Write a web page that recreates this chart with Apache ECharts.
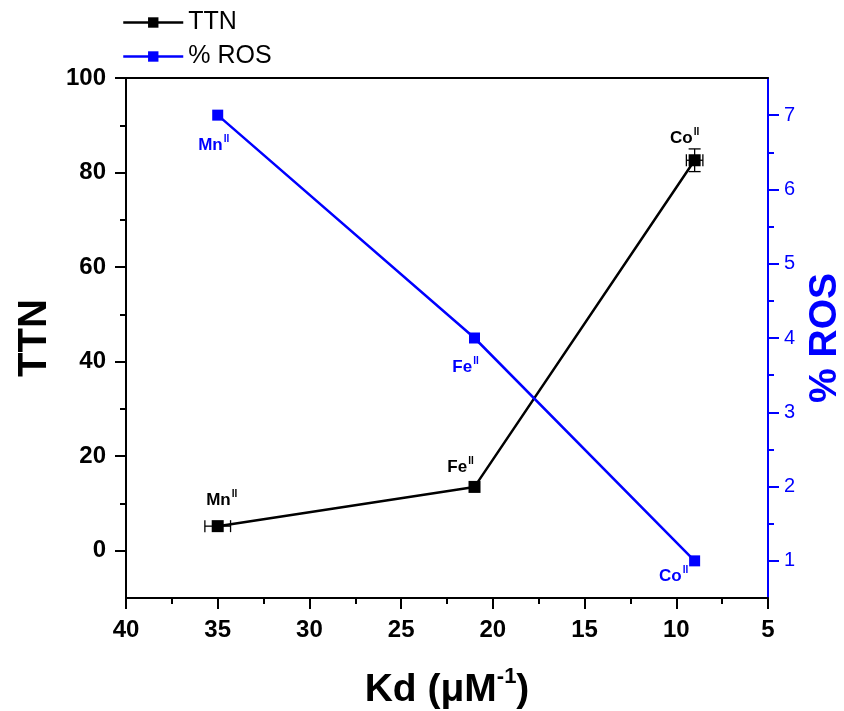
<!DOCTYPE html>
<html>
<head>
<meta charset="utf-8">
<script src="https://cdn.jsdelivr.net/npm/echarts@6/dist/echarts.min.js"></script>
<style>
  html, body { margin: 0; padding: 0; background: #fff; }
  #chart { width: 844px; height: 711px; }
</style>
</head>
<body>
<div id="chart"></div>
<script>
// Metal centres and their dissociation constants
const metals = ['Mn', 'Fe', 'Co'];
const kd = [35, 21, 9];
// Total turnover number (left axis) with error estimates
const ttn = [5.2, 13.5, 82.6];
const kdErr = [0.7, 0, 0.45];
const ttnErr = [0, 0, 2.4];
// Reactive oxygen species fraction (right axis)
const ros = [7, 4, 1];

// Tick positions
const kdTicks = [5, 10, 15, 20, 25, 30, 35, 40];
const ttnTicks = [0, 20, 40, 60, 80, 100];
const ttnMinorTicks = [10, 30, 50, 70, 90];
const rosTicks = [1, 2, 3, 4, 5, 6, 7];
const rosMinorTicks = [1.5, 2.5, 3.5, 4.5, 5.5, 6.5];

const FONT = '"Liberation Sans", Arial, sans-serif';
const BLUE = '#0000ff';
const BLACK = '#000000';

// label offsets relative to each marker
const ttnLabelOffset = [[4, -27], [-14, -21], [-10, -23]];
const rosLabelOffset = [[-4, 29], [-9, 28], [-21, 14]];

function supRich(color) {
  return {
    b: { fontFamily: FONT, fontSize: 17, fontWeight: 'bold', color: color, lineHeight: 20, verticalAlign: 'bottom' },
    s: { fontFamily: FONT, fontSize: 10, fontWeight: 'bold', color: color, lineHeight: 20, verticalAlign: 'top', padding: [0, 0, 0, 1] }
  };
}

const ttnData = kd.map((x, i) => ({
  value: [x, ttn[i]],
  label: {
    show: true, position: 'inside', offset: ttnLabelOffset[i],
    formatter: '{b|' + metals[i] + '}{s|II}', rich: supRich(BLACK)
  }
}));
const rosData = kd.map((x, i) => ({
  value: [x, ros[i]],
  label: {
    show: true, position: 'inside', offset: rosLabelOffset[i],
    formatter: '{b|' + metals[i] + '}{s|II}', rich: supRich(BLUE)
  }
}));
const errData = kd.map((x, i) => [x, ttn[i], kdErr[i], ttnErr[i]]);

const chart = echarts.init(document.getElementById('chart'), null, { renderer: 'canvas' });

const tickLabel = { fontFamily: FONT, fontSize: 24, fontWeight: 'bold', color: BLACK };
const hidden = { show: false };

// Overlay axis that only draws short (minor) ticks at the given values
function minorYAxis(min, max, values, position, color) {
  return {
    type: 'value', min, max, position,
    axisLine: { show: false, onZero: false },
    axisTick: { show: true, length: 6, customValues: values, lineStyle: { color, width: 2 } },
    axisLabel: hidden, splitLine: hidden
  };
}

chart.setOption({
  animation: false,
  backgroundColor: '#fff',
  legend: {
    left: 122, top: 10, padding: 0, orient: 'vertical',
    itemWidth: 60, itemHeight: 13, itemGap: 9,
    textStyle: { fontFamily: FONT, fontSize: 25, color: BLACK },
    lineStyle: { width: 2.5 },
    data: ['TTN', '% ROS']
  },
  grid: { left: 126, right: 76, top: 78, bottom: 113, outerBoundsMode: 'none', containLabel: false },
  xAxis: [{
    type: 'value', min: 5, max: 40, interval: 5, inverse: true,
    name: '{n|Kd (μM}{s|-1}{n|)}', nameLocation: 'middle', nameGap: 68,
    nameTextStyle: {
      rich: {
        n: { fontFamily: FONT, fontSize: 39, fontWeight: 'bold', color: BLACK, lineHeight: 44, verticalAlign: 'bottom' },
        s: { fontFamily: FONT, fontSize: 22, fontWeight: 'bold', color: BLACK, lineHeight: 44, verticalAlign: 'top' }
      }
    },
    axisLine: { onZero: false, lineStyle: { color: BLACK, width: 2 } },
    axisTick: { inside: false, length: 11, customValues: kdTicks, lineStyle: { width: 2 } },
    minorTick: { show: true, splitNumber: 2, length: 6, lineStyle: { color: BLACK, width: 2 } },
    axisLabel: Object.assign({ margin: 20, customValues: kdTicks }, tickLabel),
    splitLine: hidden
  }, {
    type: 'value', position: 'top', min: 5, max: 40, inverse: true,
    axisLine: { show: true, onZero: false, lineStyle: { color: BLACK, width: 2 } },
    axisTick: hidden, axisLabel: hidden, splitLine: hidden
  }],
  yAxis: [{
    type: 'value', min: -10, max: 100,
    name: 'TTN', nameLocation: 'middle', nameGap: 62,
    nameTextStyle: { fontFamily: FONT, fontSize: 40, fontWeight: 'bold', color: BLACK },
    axisLine: { show: true, onZero: false, lineStyle: { color: BLACK, width: 2 } },
    axisTick: { show: true, length: 11, customValues: ttnTicks, lineStyle: { width: 2 } },
    axisLabel: Object.assign({ margin: 20, customValues: ttnTicks }, tickLabel),
    splitLine: hidden
  }, {
    type: 'value', position: 'right', min: 0.5, max: 7.5,
    name: '% ROS', nameLocation: 'middle', nameGap: 35,
    nameTextStyle: { fontFamily: FONT, fontSize: 39, fontWeight: 'bold', color: BLUE },
    axisLine: { show: true, onZero: false, lineStyle: { color: BLUE, width: 2 } },
    axisTick: { show: true, length: 11, customValues: rosTicks, lineStyle: { color: BLUE, width: 2 } },
    axisLabel: { margin: 16, fontFamily: FONT, fontSize: 20, color: BLUE, customValues: rosTicks },
    splitLine: hidden
  },
    minorYAxis(-10, 100, ttnMinorTicks, 'left', BLACK),
    minorYAxis(0.5, 7.5, rosMinorTicks, 'right', BLUE)
  ],
  series: [{
    name: 'TTN', type: 'line', xAxisIndex: 0, yAxisIndex: 0,
    data: ttnData, symbol: 'rect', symbolSize: 12,
    itemStyle: { color: BLACK }, lineStyle: { color: BLACK, width: 2.5 }, z: 3
  }, {
    name: 'TTN-err', type: 'custom', xAxisIndex: 0, yAxisIndex: 0,
    data: errData, z: 4, silent: true,
    renderItem: function (params, api) {
      const x = api.value(0), y = api.value(1), ex = api.value(2), ey = api.value(3);
      const children = [];
      const style = { stroke: BLACK, lineWidth: 1.3 };
      const cap = 6;
      if (ex > 0) {
        const l = api.coord([x + ex, y]), r = api.coord([x - ex, y]);
        children.push({ type: 'line', shape: { x1: l[0], y1: l[1], x2: r[0], y2: r[1] }, style });
        children.push({ type: 'line', shape: { x1: l[0], y1: l[1] - cap, x2: l[0], y2: l[1] + cap }, style });
        children.push({ type: 'line', shape: { x1: r[0], y1: r[1] - cap, x2: r[0], y2: r[1] + cap }, style });
      }
      if (ey > 0) {
        const t = api.coord([x, y + ey]), b = api.coord([x, y - ey]);
        children.push({ type: 'line', shape: { x1: t[0], y1: t[1], x2: b[0], y2: b[1] }, style });
        children.push({ type: 'line', shape: { x1: t[0] - cap, y1: t[1], x2: t[0] + cap, y2: t[1] }, style });
        children.push({ type: 'line', shape: { x1: b[0] - cap, y1: b[1], x2: b[0] + cap, y2: b[1] }, style });
      }
      return { type: 'group', children };
    }
  }, {
    name: '% ROS', type: 'line', xAxisIndex: 0, yAxisIndex: 1,
    data: rosData, symbol: 'rect', symbolSize: 11,
    itemStyle: { color: BLUE }, lineStyle: { color: BLUE, width: 2.5 }, z: 3
  }]
});
</script>
</body>
</html>
